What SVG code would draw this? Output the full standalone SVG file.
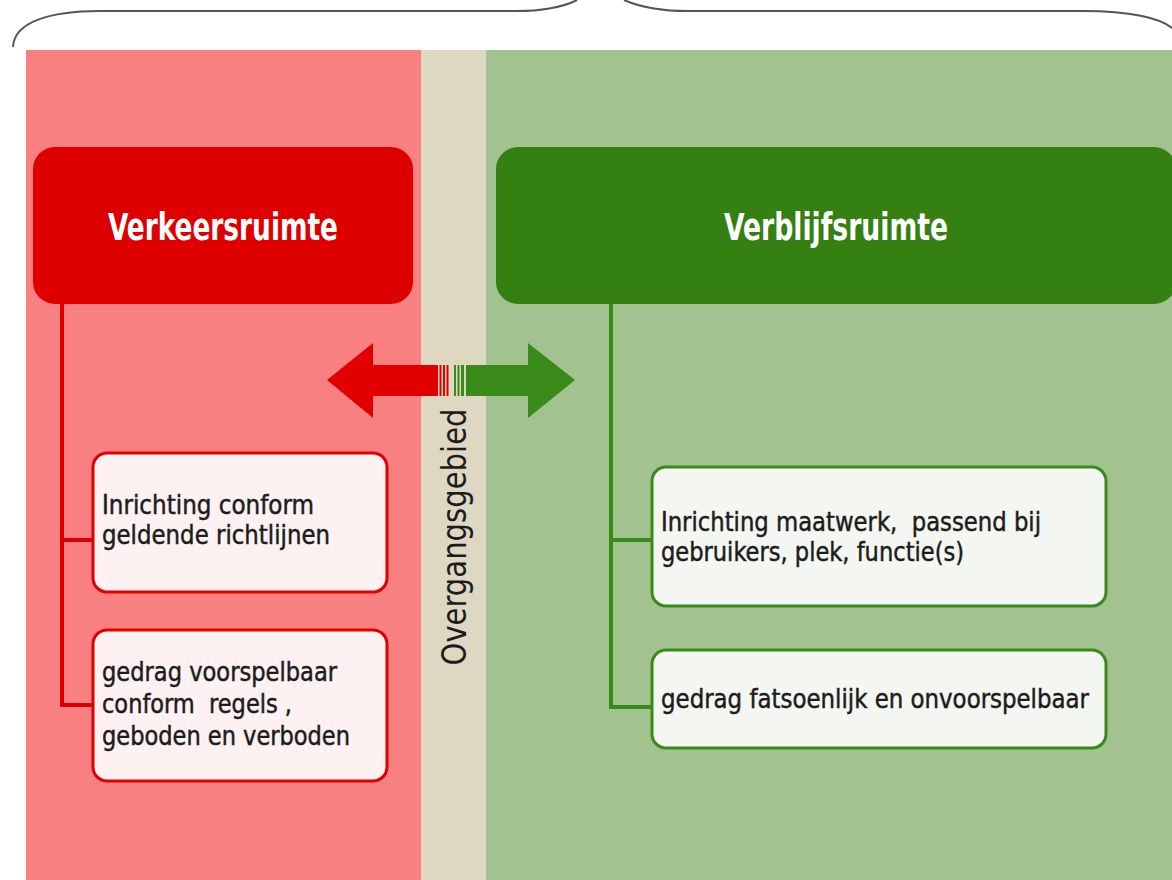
<svg xmlns="http://www.w3.org/2000/svg" width="1172" height="880" viewBox="0 0 1172 880">
  <style>
    .head { font-family: "DejaVu Sans Condensed", "Liberation Sans", sans-serif; font-weight: bold; font-size: 37px; fill: #ffffff; }
    .body { font-family: "DejaVu Sans Condensed", "Liberation Sans", sans-serif; font-size: 26px; fill: #1c1c1c; stroke: #1c1c1c; stroke-width: 0.45; white-space: pre; }
    .side { font-family: "DejaVu Sans Condensed", "Liberation Sans", sans-serif; font-size: 33px; fill: #1c1c1c; }
    .redbox { fill: #fdf1f1; stroke: #e00000; stroke-width: 3; }
    .greenbox { fill: #f4f7f1; stroke: #3a8a1a; stroke-width: 3; }
    .redline { fill: none; stroke: #d80000; stroke-width: 4; }
    .greenline { fill: none; stroke: #3a8a1a; stroke-width: 4; }
  </style>

  <rect width="1172" height="880" fill="#ffffff"/>

  <!-- background zones -->
  <rect x="26" y="50" width="395" height="830" fill="#f98080"/>
  <rect x="421" y="50" width="65" height="830" fill="#ded8c2"/>
  <rect x="486" y="50" width="686" height="830" fill="#a2c290"/>

  <!-- top brace -->
  <path d="M13,47 C14,22 50,11 100,11 L516,11 C545,11 565,6 577,0 M624,0 C640,7 660,11 688,11 L1084,11 C1130,11 1160,18 1172,28"
        fill="none" stroke="#555555" stroke-width="2"/>

  <!-- connectors -->
  <g id="connectors">
    <path class="redline" d="M62,304 L62,705 M60,540 L93,540 M60,705 L93,705"/>
    <path class="greenline" d="M611,304 L611,707 M609,540 L652,540 M609,707 L652,707"/>
    <!-- double arrow across the transition zone -->
    <polygon points="327,380 373,343 373,365 438,365 438,396 373,396 373,418" fill="#e00000"/>
    <rect x="439.5" y="365" width="2" height="31" fill="#e00000"/>
    <rect x="443" y="365" width="2" height="31" fill="#e00000"/>
    <rect x="446.5" y="365" width="2" height="31" fill="#e00000"/>
    <rect x="454" y="365" width="2" height="31" fill="#3a8a1a"/>
    <rect x="457.5" y="365" width="2" height="31" fill="#3a8a1a"/>
    <rect x="461" y="365" width="3" height="31" fill="#3a8a1a"/>
    <polygon points="466,365 528,365 528,343 575,380 528,418 528,396 466,396" fill="#3a8a1a"/>
  </g>

  <g id="verkeersruimte">
    <rect x="33" y="147" width="380" height="157" rx="22" fill="#de0000"/>
    <text class="head" x="223" y="240" text-anchor="middle" textLength="230" lengthAdjust="spacingAndGlyphs">Verkeersruimte</text>
  </g>

  <g id="verblijfsruimte">
    <rect x="496" y="147" width="680" height="157" rx="22" fill="#358012"/>
    <text class="head" x="836" y="240" text-anchor="middle" textLength="224" lengthAdjust="spacingAndGlyphs">Verblijfsruimte</text>
  </g>

  <g id="overgangsgebied">
    <text class="side" transform="translate(466,537) rotate(-90)" text-anchor="middle" textLength="257" lengthAdjust="spacingAndGlyphs">Overgangsgebied</text>
  </g>

  <g id="inrichting-conform">
    <rect class="redbox" x="93" y="453" width="294" height="139" rx="14"/>
    <text class="body" x="102" y="514" textLength="212" lengthAdjust="spacingAndGlyphs">Inrichting conform</text>
    <text class="body" x="102" y="544" textLength="228" lengthAdjust="spacingAndGlyphs">geldende richtlijnen</text>
  </g>

  <g id="gedrag-voorspelbaar">
    <rect class="redbox" x="93" y="630" width="294" height="151" rx="14"/>
    <text class="body" x="102" y="681" textLength="235" lengthAdjust="spacingAndGlyphs">gedrag voorspelbaar</text>
    <text class="body" x="102" y="713" textLength="190" lengthAdjust="spacingAndGlyphs">conform  regels ,</text>
    <text class="body" x="102" y="745" textLength="248" lengthAdjust="spacingAndGlyphs">geboden en verboden</text>
  </g>

  <g id="inrichting-maatwerk">
    <rect class="greenbox" x="652" y="467" width="454" height="139" rx="14"/>
    <text class="body" x="661" y="531" textLength="380" lengthAdjust="spacingAndGlyphs">Inrichting maatwerk,  passend bij</text>
    <text class="body" x="661" y="561" textLength="303" lengthAdjust="spacingAndGlyphs">gebruikers, plek, functie(s)</text>
  </g>

  <g id="gedrag-fatsoenlijk">
    <rect class="greenbox" x="652" y="650" width="454" height="98" rx="14"/>
    <text class="body" x="661" y="708" textLength="428" lengthAdjust="spacingAndGlyphs">gedrag fatsoenlijk en onvoorspelbaar</text>
  </g>
</svg>
